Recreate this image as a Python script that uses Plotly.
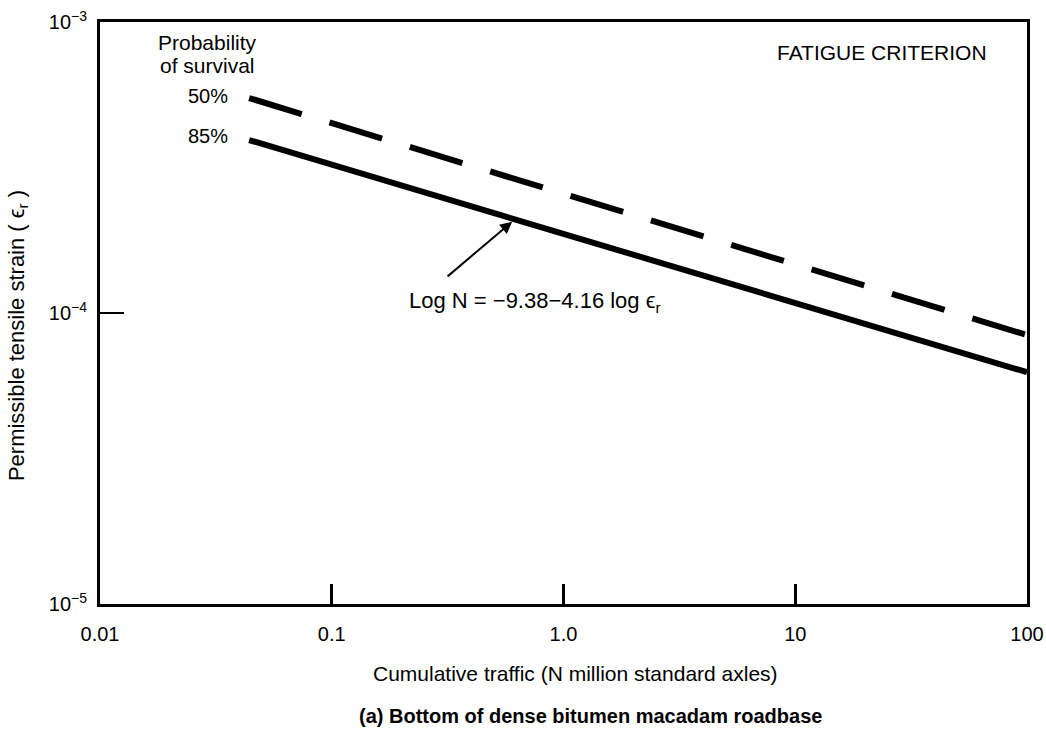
import math
import plotly.graph_objects as go

# Data
traffic = [0.044, 100]                 # N million standard axles
strain_85 = [3.93e-4, 6.26e-5]         # 85% probability of survival (solid)
strain_50 = [5.48e-4, 8.4e-5]          # 50% probability of survival (dashed)

x_tickvals = [0.01, 0.1, 1, 10, 100]
x_ticktext = ["0.01", "0.1", "1.0", "10", "100"]
y_tickvals = [1e-5, 1e-4, 1e-3]
y_ticktext = ["10<sup>−5</sup>", "10<sup>−4</sup>", "10<sup>−3</sup>"]

arrow_tip_x = 0.60
arrow_tip_y = 2.06e-4

FONT = "Liberation Sans, Arial, sans-serif"

fig = go.Figure()
fig.add_trace(go.Scatter(x=traffic, y=strain_50, mode="lines",
                         line=dict(color="black", width=6, dash="55px,29px"),
                         showlegend=False, hoverinfo="skip"))
fig.add_trace(go.Scatter(x=traffic, y=strain_85, mode="lines",
                         line=dict(color="black", width=6),
                         showlegend=False, hoverinfo="skip"))

fig.update_xaxes(type="log", range=[-2, 2], showgrid=False, zeroline=False,
                 automargin=False, ticklabeloverflow="allow",
                 showline=True, linecolor="black", linewidth=3, mirror=True,
                 tickvals=x_tickvals, ticktext=x_ticktext,
                 ticks="inside", ticklen=20, tickwidth=3, tickcolor="black",
                 ticklabelstandoff=10,
                 tickfont=dict(family=FONT, size=20, color="black"))
fig.update_yaxes(type="log", range=[-5, -3], showgrid=False, zeroline=False,
                 automargin=False, ticklabeloverflow="allow",
                 showline=True, linecolor="black", linewidth=3, mirror=True,
                 tickvals=y_tickvals, ticktext=y_ticktext,
                 ticks="inside", ticklen=24, tickwidth=2, tickcolor="black",
                 ticklabelstandoff=6,
                 tickfont=dict(family=FONT, size=20, color="black"))


def txt(x, y, text, size, xanchor="center", **kw):
    return dict(x=x, y=y, xref="paper", yref="paper", text=text, showarrow=False,
                xanchor=xanchor, yanchor="middle",
                font=dict(family=FONT, size=size, color="black"), **kw)


annos = [
    txt(0.1165, 0.964, "Probability", 21),
    txt(0.1165, 0.926, "of survival", 21),
    txt(0.140, 0.873, "50%", 20, xanchor="right"),
    txt(0.140, 0.804, "85%", 20, xanchor="right"),
    txt(0.8436, 0.948, "FATIGUE CRITERION", 21),
    dict(x=math.log10(arrow_tip_x), y=math.log10(arrow_tip_y), xref="x", yref="y",
         text="", showarrow=True, ax=-66, ay=56, arrowhead=2, arrowsize=1.2,
         arrowwidth=2, arrowcolor="black"),
    txt(0.331, 0.519, "Log N = −9.38−4.16 log ϵ<sub>r</sub>", 22, xanchor="left"),
    txt(0.513, -0.1186, "Cumulative traffic (N million standard axles)", 21),
    txt(-0.0885, 0.462, "Permissible tensile strain ( ϵ<sub>r</sub> )", 22, textangle=-90),
    txt(0.529, -0.192, "<b>(a) Bottom of dense bitumen macadam roadbase</b>", 20),
]
fig.update_layout(width=1046, height=731, plot_bgcolor="white", paper_bgcolor="white",
                  margin=dict(l=100, r=19, t=22, b=127), annotations=annos)

fig.write_html("out.html", config={"displayModeBar": False},
               post_script="document.body.style.margin='0';document.body.style.overflow='hidden';")
